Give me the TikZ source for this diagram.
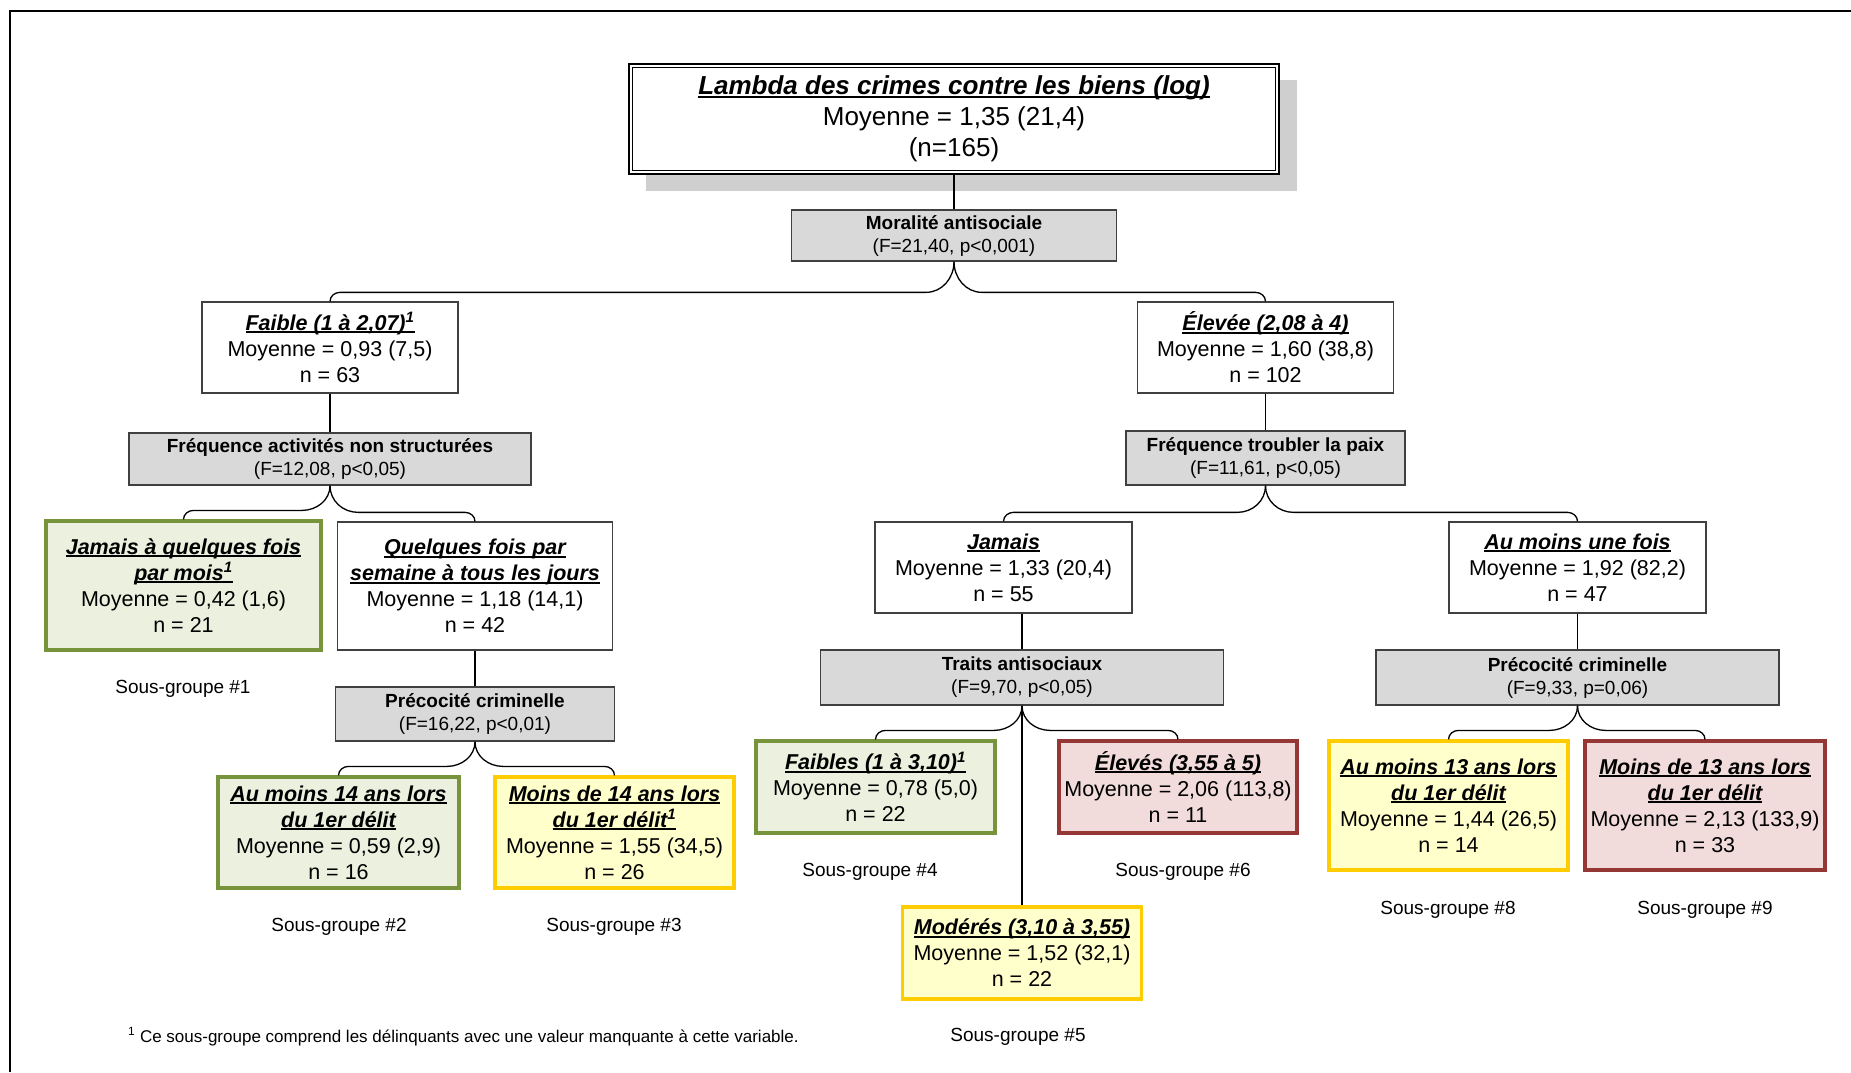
\documentclass[tikz,border=0pt]{standalone}
\usepackage{fontspec}
\setmainfont{Liberation Sans}
\usetikzlibrary{calc}
\definecolor{grnfill}{HTML}{EBF1DE}
\definecolor{grnline}{HTML}{77933C}
\definecolor{yelfill}{HTML}{FFFFCC}
\definecolor{yelline}{HTML}{FFCC00}
\definecolor{redfill}{HTML}{F2DCDB}
\definecolor{redline}{HTML}{953735}
\definecolor{statfill}{HTML}{D9D9D9}
\definecolor{boxline}{HTML}{404040}
\definecolor{shadowgray}{HTML}{CFCFCF}
\newsavebox\ulbox
\newcommand\ul[1]{\sbox\ulbox{#1}\rlap{\rule[-0.13em]{\wd\ulbox}{0.085em}}\usebox\ulbox}
\newcommand\ttl[1]{{\bfseries\itshape\ul{#1}}}
\newcommand\fnm{\textsuperscript{1}}
\newcommand\brl[2]{\draw[conn] let \p1=(#1.south), \p2=(#2.north) in (\p1) to[out=-90,in=0] (\x1-28pt,\y2+9pt) -- (\x2+10pt,\y2+9pt) to[out=180,in=90] (\p2);}
\newcommand\brr[2]{\draw[conn] let \p1=(#1.south), \p2=(#2.north) in (\p1) to[out=-90,in=180] (\x1+28pt,\y2+9pt) -- (\x2-10pt,\y2+9pt) to[out=0,in=90] (\p2);}
\tikzset{
  base/.style={inner sep=0pt, align=center, font=\fontsize{21.5}{26}\selectfont},
  sz/.style 2 args={minimum width=#1pt, minimum height=#2pt},
  wbox/.style={base, draw=boxline, line width=1.3pt, fill=white},
  gbox/.style={base, draw=grnline, fill=grnfill, line width=3.2pt},
  ybox/.style={base, draw=yelline, fill=yelfill, line width=3.2pt},
  rbox/.style={base, draw=redline, fill=redfill, line width=3.2pt},
  stat/.style={inner sep=0pt, align=center, draw=boxline, fill=statfill, line width=1.3pt, font=\fontsize{19}{23}\selectfont},
  lbl/.style={inner sep=0pt, font=\fontsize{19}{23}\selectfont},
  conn/.style={draw=black, line width=1.3pt},
}
\begin{document}
\begin{tikzpicture}[x=1pt,y=-1pt]
\useasboundingbox (0,0) rectangle (1851,1072);
\fill[white] (0,0) rectangle (1851,1072);
\draw[line width=2.6pt] (10,1072) -- (10,11) -- (1851,11);

% root with shadow
\fill[shadowgray] (646,80) rectangle (1297,191);
\node[base, sz={650}{110}, draw=black, line width=2.6pt, fill=white, font=\fontsize{26}{31}\selectfont] (root) at (954,119)
  {\ttl{Lambda des crimes contre les biens (log)}\\Moyenne = 1,35 (21,4)\\(n=165)};
\draw[line width=1.2pt] ([shift={(5,5)}]root.north west) rectangle ([shift={(-5,-5)}]root.south east);

\node[stat, sz={325}{51}] (mor) at (954,235.5) {\textbf{Moralité antisociale}\\(F=21,40, p<0,001)};

\node[wbox, sz={256}{91}] (faible) at (330,347.5) {\ttl{Faible (1 à 2,07)\fnm}\\Moyenne = 0,93 (7,5)\\n = 63};
\node[wbox, sz={256}{91}] (elevee) at (1265.5,347.5) {\ttl{Élevée (2,08 à 4)}\\Moyenne = 1,60 (38,8)\\n = 102};

\node[stat, sz={402}{52}] (freqa) at (330,459) {\textbf{Fréquence activités non structurées}\\(F=12,08, p<0,05)};
\node[stat, sz={279}{54}] (freqt) at (1265.5,458) {\textbf{Fréquence troubler la paix}\\(F=11,61, p<0,05)};

\node[gbox, sz={275}{129}] (jamq) at (183.5,585.5) {\ttl{Jamais à quelques fois}\\\ttl{par mois\fnm}\\Moyenne = 0,42 (1,6)\\n = 21};
\node[wbox, sz={275}{128}] (quel) at (475,586) {\ttl{Quelques fois par}\\\ttl{semaine à tous les jours}\\Moyenne = 1,18 (14,1)\\n = 42};
\node[lbl] (sg1) at (183,689) {Sous-groupe \#1};

\node[stat, sz={279}{54}] (prec1) at (475,714) {\textbf{Précocité criminelle}\\(F=16,22, p<0,01)};
\node[gbox, sz={241}{111}] (am14) at (338.5,832.5) {\ttl{Au moins 14 ans lors}\\\ttl{du 1er délit}\\Moyenne = 0,59 (2,9)\\n = 16};
\node[ybox, sz={239}{111}] (mo14) at (614.5,832.5) {\ttl{Moins de 14 ans lors}\\\ttl{du 1er délit\fnm}\\Moyenne = 1,55 (34,5)\\n = 26};
\node[lbl] (sg2) at (339,927) {Sous-groupe \#2};
\node[lbl] (sg3) at (614,927) {Sous-groupe \#3};

\node[wbox, sz={257}{91}] (jamr) at (1003.5,567.5) {\ttl{Jamais}\\Moyenne = 1,33 (20,4)\\n = 55};
\node[wbox, sz={257}{91}] (aumu) at (1577.5,567.5) {\ttl{Au moins une fois}\\Moyenne = 1,92 (82,2)\\n = 47};

\node[stat, sz={403}{55}] (traits) at (1022,677.5) {\textbf{Traits antisociaux}\\(F=9,70, p<0,05)};
\node[stat, sz={403}{55}] (prec2) at (1577.5,677.5) {\textbf{Précocité criminelle}\\(F=9,33, p=0,06)};

\node[gbox, sz={239}{92}] (faibles) at (875.5,787) {\ttl{Faibles (1 à 3,10)\fnm}\\Moyenne = 0,78 (5,0)\\n = 22};
\node[rbox, sz={238}{92}] (eleves) at (1178,787) {\ttl{Élevés (3,55 à 5)}\\Moyenne = 2,06 (113,8)\\n = 11};
\node[ybox, sz={239}{92}] (moder) at (1022,953) {\ttl{Modérés (3,10 à 3,55)}\\Moyenne = 1,52 (32,1)\\n = 22};
\node[lbl] (sg4) at (870,872) {Sous-groupe \#4};
\node[lbl] (sg6) at (1183,872) {Sous-groupe \#6};
\node[lbl] (sg5) at (1018,1037) {Sous-groupe \#5};

\node[ybox, sz={239}{129}] (am13) at (1448.5,805.5) {\ttl{Au moins 13 ans lors}\\\ttl{du 1er délit}\\Moyenne = 1,44 (26,5)\\n = 14};
\node[rbox, sz={240}{129}] (mo13) at (1705,805.5) {\ttl{Moins de 13 ans lors}\\\ttl{du 1er délit}\\Moyenne = 2,13 (133,9)\\n = 33};
\node[lbl] (sg8) at (1448,910) {Sous-groupe \#8};
\node[lbl] (sg9) at (1705,910) {Sous-groupe \#9};

\node[anchor=base west, inner sep=0pt, font=\fontsize{17}{20}\selectfont] (fn) at (128,1042) {\textsuperscript{1} Ce sous-groupe comprend les délinquants avec une valeur manquante à cette variable.};

% connectors
\draw[conn] (root.south) -- (mor.north);
\brl{mor}{faible}
\brr{mor}{elevee}
\draw[conn] (faible.south) -- (freqa.north);
\draw[conn] (elevee.south) -- (freqt.north);
\brl{freqa}{jamq}
\brr{freqa}{quel}
\draw[conn] (quel.south) -- (prec1.north);
\brl{prec1}{am14}
\brr{prec1}{mo14}
\brl{freqt}{jamr}
\brr{freqt}{aumu}
\draw[conn] (traits.north |- jamr.south) -- (traits.north);
\draw[conn] (aumu.south) -- (prec2.north);
\brl{traits}{faibles}
\brr{traits}{eleves}
\draw[conn] (traits.south) -- (moder.north);
\brl{prec2}{am13}
\brr{prec2}{mo13}
\end{tikzpicture}
\end{document}
